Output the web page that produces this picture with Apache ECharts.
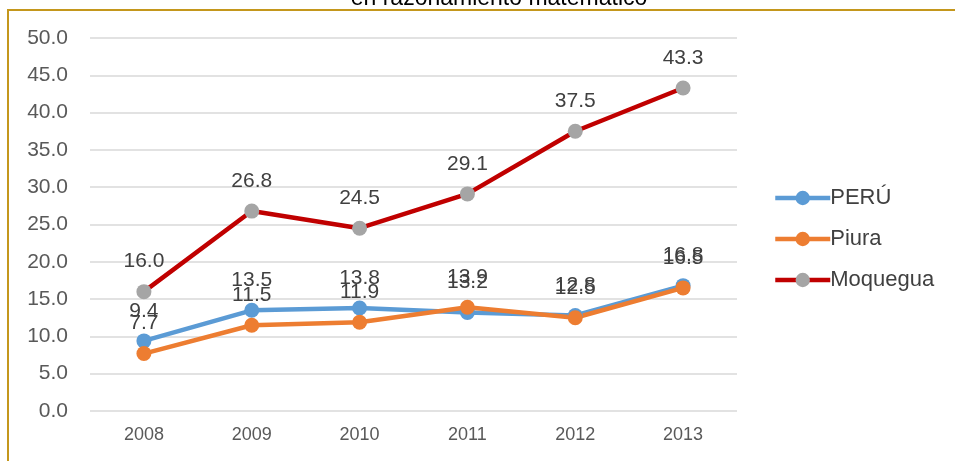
<!DOCTYPE html>
<html>
<head>
<meta charset="utf-8">
<script src="https://cdn.jsdelivr.net/npm/echarts@6/dist/echarts.min.js"></script>
<style>
  html, body { margin: 0; padding: 0; background: #fff; }
  #chart { width: 955px; height: 461px; }
</style>
</head>
<body>
<div id="chart"></div>
<script>
  const years = ['2008', '2009', '2010', '2011', '2012', '2013']
  const peru = [9.4, 13.5, 13.8, 13.2, 12.8, 16.8]
  const piura = [7.7, 11.5, 11.9, 13.9, 12.5, 16.5]
  const moquegua = [16.0, 26.8, 24.5, 29.1, 37.5, 43.3]

  const chart = echarts.init(document.getElementById('chart'))

  // estilo comun de las etiquetas de datos
  const labelStyle = {
    show: true,
    position: 'top',
    distance: 12,
    color: '#404040',
    fontSize: 21,
    fontFamily: 'Liberation Sans, Arial, sans-serif',
    formatter: p => p.value.toFixed(1)
  }

  function lineSeries (name, data, lineColor, dotColor) {
    return {
      name: name,
      type: 'line',
      data: data,
      symbol: 'circle',
      symbolSize: 15,
      lineStyle: { color: lineColor, width: 4.5 },
      itemStyle: { color: dotColor },
      label: labelStyle,
      animation: false
    }
  }

  const option = {
    backgroundColor: '#fff',
    graphic: [
      {
        type: 'polyline',
        shape: { points: [[8, 461], [8, 10], [955, 10]] },
        style: { stroke: '#C4971C', lineWidth: 2, fill: null }
      },
      {
        type: 'text',
        x: 499,
        y: 10,
        style: {
          text: 'en razonamiento matemático',
          fill: '#000',
          font: '23px "Liberation Sans", Arial, sans-serif',
          align: 'center',
          verticalAlign: 'bottom'
        }
      }
    ],
    legend: {
      data: ['PERÚ', 'Piura', 'Moquegua'],
      orient: 'vertical',
      left: 768,
      top: 182,
      itemWidth: 55,
      itemHeight: 18,
      itemGap: 19,
      lineStyle: { width: 4.5 },
      textStyle: {
        color: '#404040',
        fontSize: 22,
        fontFamily: 'Liberation Sans, Arial, sans-serif',
        padding: [0, 0, 0, -5]
      }
    },
    grid: {
      left: 90,
      right: 218,
      top: 38,
      bottom: 50
    },
    xAxis: {
      type: 'category',
      data: years,
      boundaryGap: true,
      axisLine: { show: false },
      axisTick: { show: false },
      axisLabel: {
        color: '#595959',
        fontSize: 18,
        fontFamily: 'Liberation Sans Narrow, Liberation Sans, sans-serif',
        margin: 15
      }
    },
    yAxis: {
      type: 'value',
      min: 0,
      max: 50,
      interval: 5,
      axisLine: { show: false },
      axisTick: { show: false },
      axisLabel: {
        color: '#595959',
        fontSize: 21,
        fontFamily: 'Liberation Sans, Arial, sans-serif',
        margin: 22,
        formatter: v => v.toFixed(1)
      },
      splitLine: { lineStyle: { color: '#D9D9D9', width: 1.5 } }
    },
    series: [
      lineSeries('PERÚ', peru, '#5B9BD5', '#5B9BD5'),
      lineSeries('Piura', piura, '#ED7D31', '#ED7D31'),
      lineSeries('Moquegua', moquegua, '#C00000', '#A5A5A5')
    ]
  }

  chart.setOption(option)
</script>
</body>
</html>
